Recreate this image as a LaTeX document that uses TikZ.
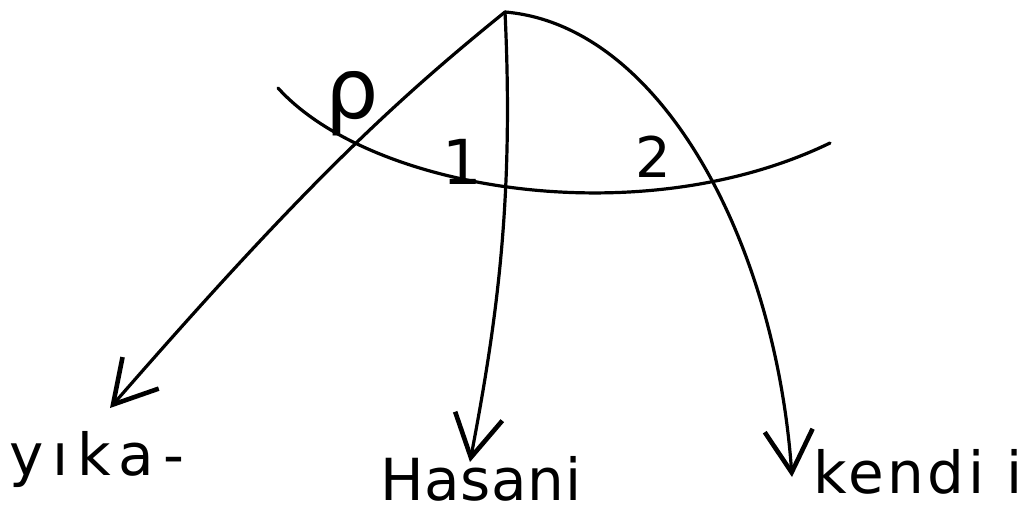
\documentclass[tikz,border=0pt]{standalone}
\usepackage{fontspec}
\setmainfont{DejaVu Sans}
\usetikzlibrary{arrows.meta}
\tikzset{
  pen/.style={line width=3.2pt, line cap=round, line join=round},
  arr/.style={pen, -{Straight Barb[length=42pt,width=48pt,line width=4.6pt]}},
  word/.style={font=\fontsize{58}{66}\selectfont, inner sep=0pt, anchor=base},
  arclabel/.style={inner sep=0pt}
}
\begin{document}
\begin{tikzpicture}[x=1pt,y=-1pt]
\useasboundingbox (0,0) rectangle (1024,515);
\coordinate (root) at (505,12);
\coordinate (tl) at (110,408);
\coordinate (tm) at (470,462);
\coordinate (tr) at (792,477);
\coordinate (a0) at (278,88);
\coordinate (a1) at (830,143);
% arc
\draw[pen] (a0) .. controls (370,190) and (640,235) .. (a1);
% connectors
\draw[arr] (root) .. controls (390,105) and (300,190) .. (tl);
\draw[arr] (root) .. controls (514,200) and (497,320) .. (tm);
\draw[arr] (root) .. controls (660,25) and (775,240) .. (tr);
% labels
\node[arclabel, font=\fontsize{84}{90}\selectfont] (rho) at (352,104) {ρ};
\node[arclabel, font=\fontsize{62}{70}\selectfont] (one) at (462,162) {1};
\node[arclabel, font=\fontsize{56}{64}\selectfont] (two) at (653,157) {2};
\node[word] (yika) at (97,475) {\addfontfeature{LetterSpace=15}yıka-};
\node[word] (hasani) at (481,500) {\addfontfeature{LetterSpace=1}Hasani};
\node[word] (kendi) at (918,493) {\addfontfeature{LetterSpace=6}kendi i};
\end{tikzpicture}
\end{document}
